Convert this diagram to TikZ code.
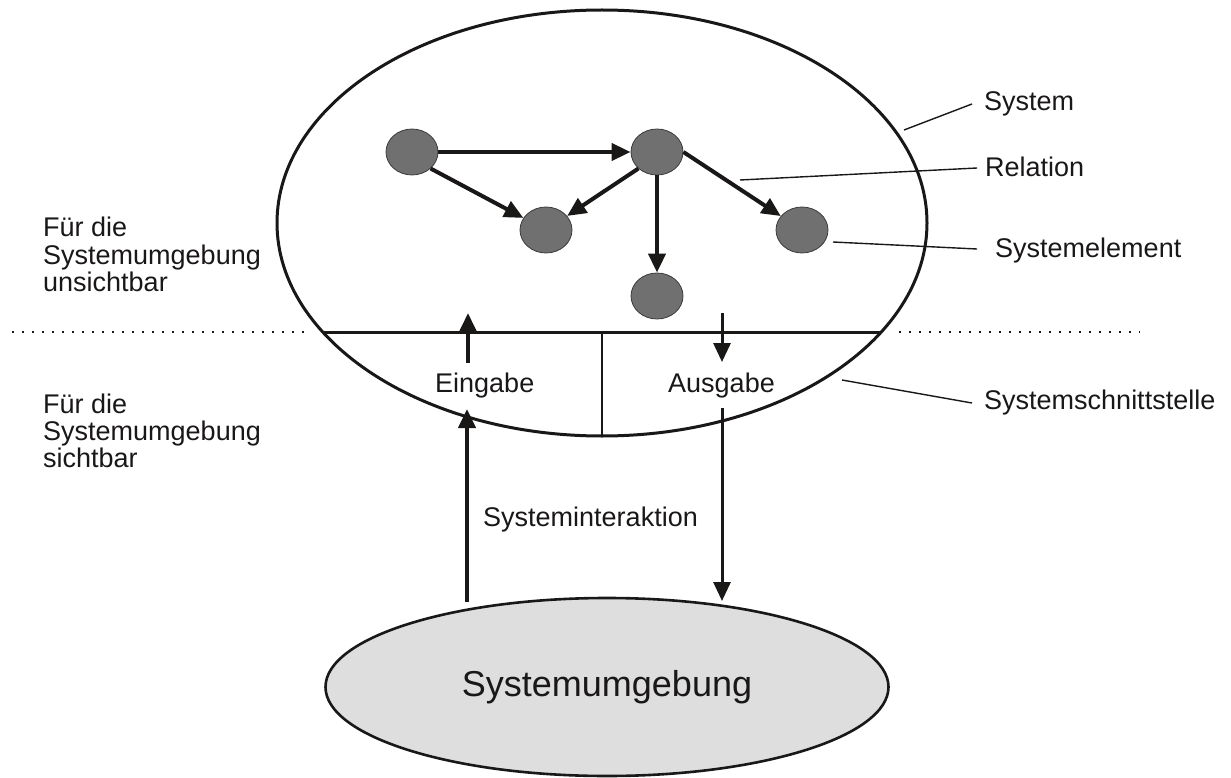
\documentclass[tikz,border=0pt]{standalone}
\usepackage{fontspec}
\setmainfont{Liberation Sans}
\usetikzlibrary{shapes.geometric,arrows.meta}

\definecolor{ink}{HTML}{1A1717}
\definecolor{elemgray}{HTML}{707070}
\definecolor{envgray}{HTML}{DEDEDE}

\begin{document}
\begin{tikzpicture}[x=1pt,y=-1pt,
  every node/.style={font=\fontsize{27}{27.3}\selectfont, text=ink},
  outline/.style={draw=ink, line width=3pt},
  element/.style={ellipse, draw=ink!85, line width=0.8pt, fill=elemgray,
    minimum width=52pt, minimum height=46pt, inner sep=0pt},
  tipshape/.style={-{Triangle[length=19pt,width=17pt]}},
  rel/.style={tipshape, draw=ink, line width=4pt},
  flowthick/.style={tipshape, draw=ink, line width=4pt},
  flowthin/.style={tipshape, draw=ink, line width=3pt},
  leader/.style={draw=ink, line width=1.4pt},
  boundary/.style={draw=ink, line width=2.2pt, dash pattern=on 2.2pt off 7.8pt},
  label/.style={anchor=base west, inner sep=0pt},
  side/.style={anchor=north west, align=left, inner sep=0pt}]

\useasboundingbox (0,0) rectangle (1231,778);

% visibility boundary
\draw[boundary] (12,332) -- (308,332);
\draw[boundary] (899,332) -- (1140,332);

% the system
\node[ellipse, outline, minimum width=650pt, minimum height=426pt, inner sep=0pt]
  (sys) at (602,223) {};
\begin{scope}
  \clip (602,223) ellipse [x radius=325, y radius=213];
  \draw[outline] (0,332) -- (1231,332);
  \draw[draw=ink, line width=2.6pt] (602,332) -- (602,445);
\end{scope}

% system elements
\node[element] (n1) at (412,152) {};
\node[element] (n2) at (657,152) {};
\node[element] (n3) at (546,230) {};
\node[element] (n4) at (802,230) {};
\node[element] (n5) at (657,296) {};

% relations
\draw[rel] (n1) -- (n2);
\draw[rel] (n1.south east) -- (n3);
\draw[rel] (n2.south west) -- (n3);
\draw[rel] (n2.east) -- (n4);
\draw[rel] (n2) -- (n5);

% interface
\node[label] (ein) at (435,392) {Eingabe};
\node[label] (aus) at (668,392) {Ausgabe};
\coordinate (einlo) at (468,363);
\coordinate (einhi) at (468,313);
\coordinate (aushi) at (722,313);
\coordinate (auslo) at (722,362);
\draw[flowthick] (einlo) -- (einhi);
\draw[flowthin] (aushi) -- (auslo);

% environment
\node[ellipse, draw=ink, line width=2.6pt, fill=envgray, minimum width=563pt,
  minimum height=178pt, inner sep=0pt, font=\fontsize{36}{40}\selectfont]
  (env) at (607,687) {Systemumgebung};

% interaction
\coordinate (inbase) at (467,602);
\coordinate (intip) at (467,409);
\coordinate (outbase) at (722,408);
\coordinate (outtip) at (722,601);
\draw[flowthick] (inbase) -- (intip);
\draw[flowthin] (outbase) -- (outtip);
\node[label] (inter) at (483,526) {Systeminteraktion};

% annotations
\node[label] (lsys) at (984,111) {System};
\node[label] (lrel) at (985,177) {Relation};
\node[label] (lel) at (995,257) {Systemelement};
\node[label] (lif) at (984,409) {Systemschnittstelle};
\coordinate (psys) at (904,130);
\coordinate (qsys) at (972,104);
\coordinate (prel) at (740,180);
\coordinate (qrel) at (977,168);
\coordinate (pel) at (833,242);
\coordinate (qel) at (977,249);
\coordinate (pif) at (842,380);
\coordinate (qif) at (972,403);
\draw[leader] (psys) -- (qsys);
\draw[leader] (prel) -- (qrel);
\draw[leader] (pel) -- (qel);
\draw[leader] (pif) -- (qif);

% visibility notes
\node[side] (hidden) at (43,217) {Für die\\Systemumgebung\\unsichtbar};
\node[side] (shown) at (43,393.5) {Für die\\Systemumgebung\\sichtbar};

\end{tikzpicture}
\end{document}
